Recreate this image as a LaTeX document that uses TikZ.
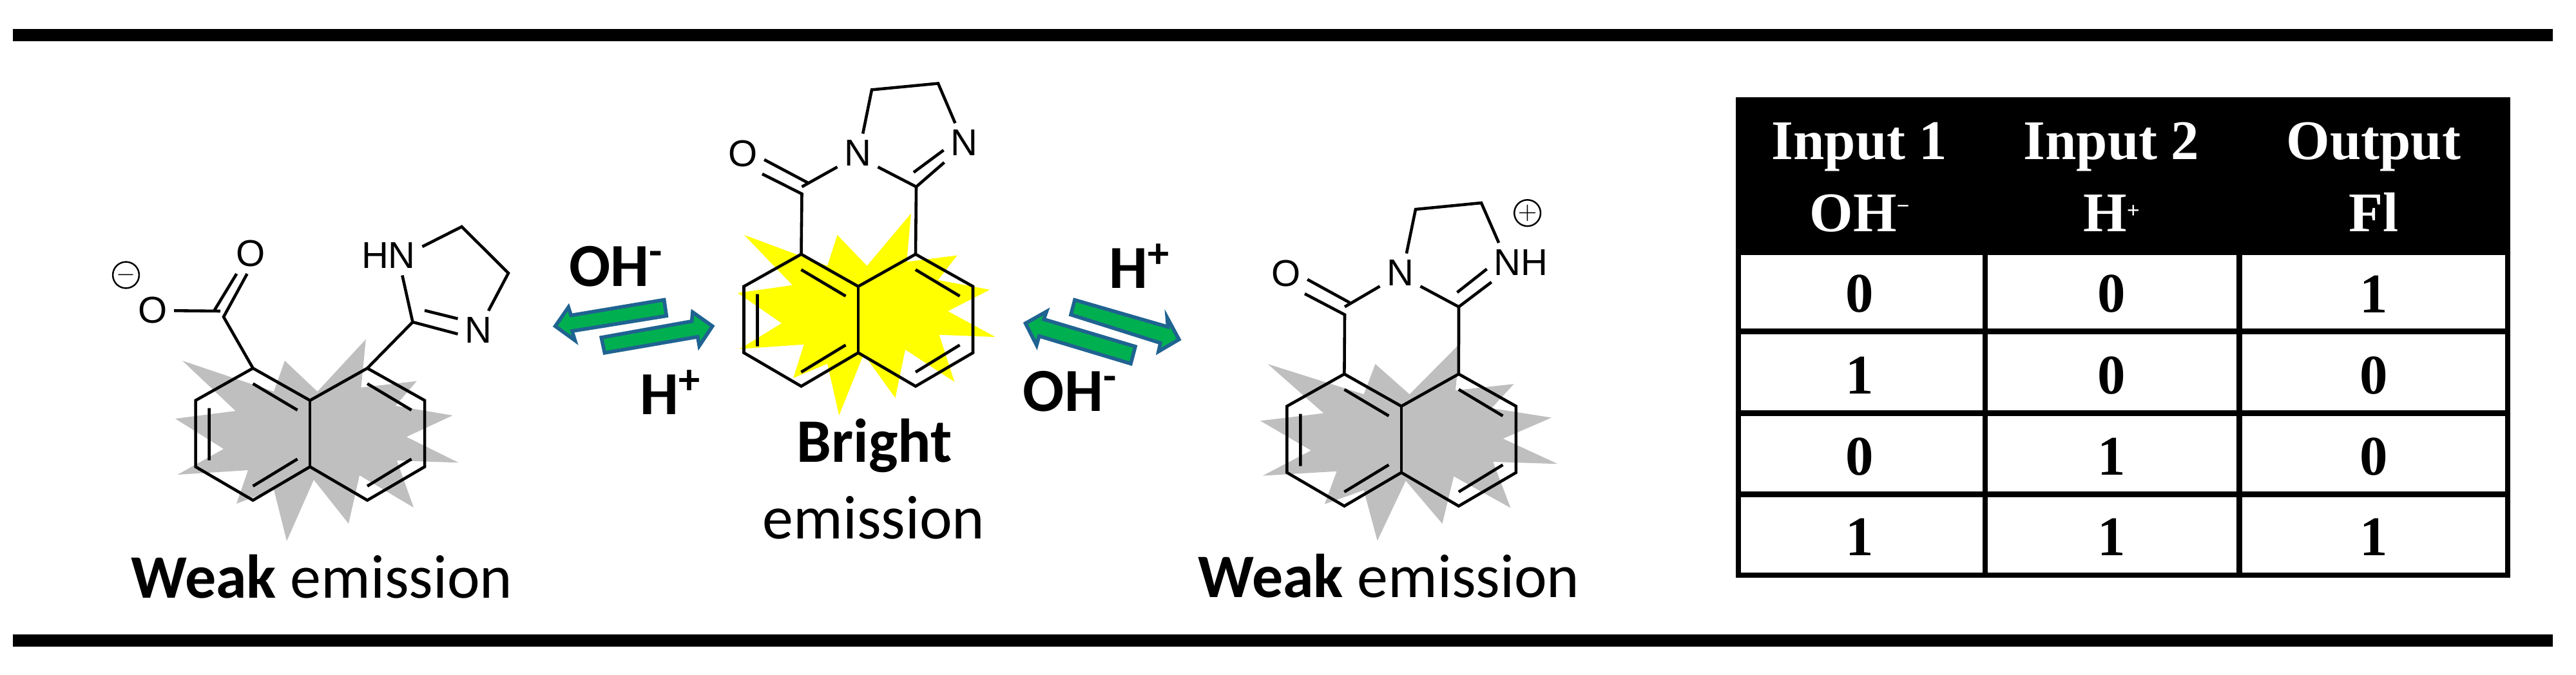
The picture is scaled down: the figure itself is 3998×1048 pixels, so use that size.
\documentclass[tikz,border=0pt]{standalone}
\usepackage{fontspec}
\setmainfont{Liberation Serif}
\newfontfamily\calibfont{Carlito}
\newfontfamily\atomfont{Liberation Sans}
\definecolor{flashgray}{HTML}{BFBFBF}
\definecolor{flashyellow}{HTML}{FFFF00}
\definecolor{arrowgreen}{HTML}{00B050}
\definecolor{arrowblue}{HTML}{1F6391}
\tikzset{
  bond/.style={line width=1.3pt,line join=miter},
  atom/.style={font=\atomfont\fontsize{16.5}{18}\selectfont,inner sep=2.8pt},
  charge/.style={draw,circle,line width=0.7pt,inner sep=0pt,minimum size=11.6pt,font=\fontsize{11}{11}\selectfont},
  lab/.style={anchor=base,inner sep=0pt,font=\calibfont\fontsize{27.3}{30}\selectfont},
  ion/.style={lab,font=\calibfont\bfseries\fontsize{27}{30}\selectfont},
  eqarrow/.style={fill=arrowgreen,draw=arrowblue,line width=1.6pt,line join=miter},
  head/.style={anchor=base,inner sep=0pt,text=white,font=\bfseries\fontsize{24.7}{28}\selectfont},
  digit/.style={inner sep=0pt,font=\bfseries\fontsize{24.7}{28}\selectfont},
  rulebar/.style={fill=black},
  grid/.style={line width=2.5pt}
}
% small raised sign in the table head
\newcommand{\upsign}[2]{{\fontsize{10}{10}\selectfont\raisebox{#1}{#2}}}
% burst behind the rings
\newcommand{\flash}[5]{\fill[#1,shift={(#2,#3)},xscale=#4,yscale=#5]
  (295.8,0) -- (288.5,75) -- (374.8,65) -- (341.8,103.3) -- (430.5,118.3) -- (358.8,151.6)
  -- (439.7,191.6) -- (344,188.3) -- (370,261.3) -- (286,211.3) -- (269,286.3) -- (215,218.3)
  -- (173,313.3) -- (153,233.3) -- (95,255.3) -- (113,203.3) -- (3.5,210.3) -- (75,170.3)
  -- (0,123.3) -- (93.6,111.3) -- (11,33.3) -- (153,81.3) -- (170,33.3) -- (220.6,81.3) -- cycle;}
% two fused rings, #1 is the name prefix
\newcommand{\rings}[3]{\begin{scope}[shift={(#2,#3)}]
  \coordinate (#1tl) at (89,0);
  \coordinate (#1tr) at (266.5,0);
  \draw[bond] (0,50) -- (#1tl) -- (177.5,50) -- (#1tr) -- (355.5,50) -- (355.5,153) -- (266.5,205)
    -- (177.5,153) -- (89,205) -- (0,153) -- cycle;
  \draw[bond] (177.5,50) -- (177.5,153);
  \draw[bond] (89,24) -- (158,65) (266.5,24) -- (335,65) (335,141) -- (266.5,183)
    (158,141) -- (89,183) (21,62) -- (21,143);
\end{scope}}

\begin{document}
\begin{tikzpicture}[x=0.01cm,y=-0.01cm]
\useasboundingbox (0,0) rectangle (3998,1048);
\fill[rulebar] (20,45) rectangle (3962,64);
\fill[rulebar] (20,985) rectangle (3962,1004);

\flash{flashgray}{272}{526.7}{1}{1}
\flash{flashyellow}{1145}{331.5}{0.909}{1}
\flash{flashgray}{1956}{532.5}{1.05}{0.98}

\rings{a}{303.6}{571.7}
\rings{b}{1154.5}{394.7}
\rings{c}{1997.4}{580.7}

% left molecule
\node[atom] (oa) at (237,482) {O};
\node[atom] (ob) at (389,394) {O};
\node[atom] (hn) at (603,397) {HN};
\node[atom] (na) at (742,513) {N};
\node[charge] (neg) at (195.5,427) {$-$};
\coordinate (ca) at (347,492);
\coordinate (cb) at (332,483);
\coordinate (cc) at (342,483);
\coordinate (cd) at (640.5,500);
\coordinate (ce) at (659,482);
\draw[bond] (atl) -- (ca) -- (ob.-100);
\draw[bond] (cb) -- (ob.-125);
\draw[bond] (oa) -- (cc);
\draw[bond] (atr) -- (cd) -- (hn.-55);
\draw[bond] (hn.15) -- (716.6,352) -- (789,424) -- (na);
\draw[bond] (cd) -- (na.190);
\draw[bond] (ce) -- (na.150);

% middle molecule
\node[atom] (oc) at (1153,239) {O};
\node[atom] (nb) at (1331,238) {N};
\node[atom] (nc) at (1496,221.7) {N};
\coordinate (da) at (1244.5,301);
\coordinate (db) at (1253.7,283.7);
\coordinate (dc) at (1244.5,290);
\coordinate (dd) at (1422,290);
\coordinate (de) at (1418,267.6);
\draw[bond] (btl) -- (da) -- (oc.-46);
\draw[bond] (db) -- (oc.-15);
\draw[bond] (dc) -- (nb.-146);
\draw[bond] (nb.-34) -- (dd) -- (btr);
\draw[bond] (dd) -- (nc.-135);
\draw[bond] (de) -- (nc.-160);
\draw[bond] (nb.75) -- (1353,139.4) -- (1456,129.5) -- (nc.114);

% right molecule
\node[atom] (od) at (1996,425) {O};
\node[atom] (nd) at (2173,424) {N};
\node[atom] (nh) at (2360,407.5) {NH};
\node[charge] (pos) at (2370.6,330.7) {$+$};
\coordinate (fa) at (2087,488.6);
\coordinate (fb) at (2095,470);
\coordinate (fc) at (2087,476.4);
\coordinate (fd) at (2264,476.4);
\coordinate (fe) at (2261.5,454);
\draw[bond] (ctl) -- (fa) -- (od.-47);
\draw[bond] (fb) -- (od.-15);
\draw[bond] (fc) -- (nd.-147);
\draw[bond] (nd.-33) -- (fd) -- (ctr);
\draw[bond] (fd) -- (nh.-146);
\draw[bond] (fe) -- (nh.-169);
\draw[bond] (nd.72) -- (2197,325) -- (2299,315) -- (nh.138);

% equilibrium arrows
\draw[eqarrow] (861.8,506.4) -- (882.2,477) -- (886.3,489.6) -- (1030.7,465.5) -- (1034.3,490.4) -- (887.9,514) -- (892.4,528.6) -- cycle;
\draw[eqarrow] (933.3,524) -- (1073.6,498.8) -- (1075,484.6) -- (1105.7,506.4) -- (1085.3,537) -- (1082.8,522.9) -- (938.4,547.8) -- cycle;
\draw[eqarrow] (1668,465.7) -- (1812.6,507.5) -- (1811.4,493) -- (1829.8,527) -- (1798,545.7) -- (1801,532.5) -- (1662,488.6) -- cycle;
\draw[eqarrow] (1591.6,502) -- (1624.3,483.6) -- (1620,495.7) -- (1762,538) -- (1755,564.6) -- (1612.8,521.8) -- (1608.8,536) -- cycle;

% labels
\node[ion] (oh1) at (956.5,444) {OH\textsuperscript{-}};
\node[ion] (h1) at (1041,643) {H\textsuperscript{+}};
\node[ion] (h2) at (1769,447.5) {H\textsuperscript{+}};
\node[ion] (oh2) at (1661,638) {OH\textsuperscript{-}};
\node[lab] (weak1) at (499.5,928) {\textbf{Weak} emission};
\node[lab] (bright) at (1357,717) {\textbf{Bright}};
\node[lab] (emis) at (1356,836) {emission};
\node[lab] (weak2) at (2155.5,927) {\textbf{Weak} emission};

% truth table
\fill (2694,151.4) rectangle (3895.5,392.8);
\draw[grid] (2698,392) rectangle (3892,893);
\foreach \x in {3081,3475.7}
\draw[grid] (\x,392) -- (\x,893);
\foreach \y in {514.4,641.2,767.8}
\draw[grid] (2698,\y) -- (3892,\y);
\foreach \x/\toptext/\lowtext [count=\c] in {2886/Input 1/OH\upsign{8pt}{−},3277/Input 2/H\upsign{6pt}{+},3684/Output/Fl} {
\node[head] (top\c) at (\x,247) {\toptext};
\node[head] (low\c) at (\x,359.6) {\lowtext};
}
\foreach \y/\a/\b/\f [count=\r] in {456.5/0/0/1,583/1/0/0,709/0/1/0,834/1/1/1} {
\node[digit] (ina\r) at (2886,\y) {\a};
\node[digit] (inb\r) at (3277,\y) {\b};
\node[digit] (out\r) at (3684,\y) {\f};
}
\end{tikzpicture}
\end{document}
